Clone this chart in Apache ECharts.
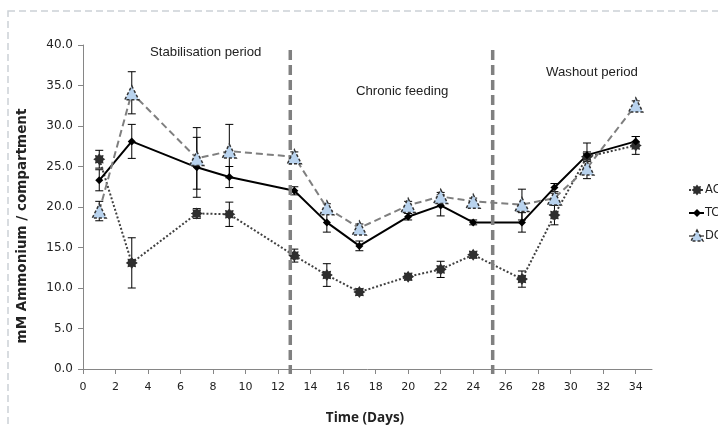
<!DOCTYPE html>
<html>
<head>
<meta charset="utf-8">
<script src="https://cdn.jsdelivr.net/npm/echarts@6/dist/echarts.min.js"></script>
<style>
  html, body { margin: 0; padding: 0; background: #fff; }
  #chart { width: 718px; height: 425px; }
</style>
</head>
<body>
<div id="chart"></div>
<script>
// Sampling days
var days = [1, 3, 7, 9, 13, 15, 17, 20, 22, 24, 27, 29, 31, 34];

// Ammonium per compartment (mM), mean and error
var acMean = [25.9, 13.1, 19.2, 19.1, 14.0, 11.6, 9.5, 11.4, 12.3, 14.1, 11.1, 19.0, 26.2, 27.6];
var acErr  = [1.1, 3.1, 0.6, 1.5, 0.8, 1.4, 0.4, 0.4, 1.0, 0.4, 1.0, 1.2, 0.6, 1.1];
var tcMean = [23.3, 28.1, 24.9, 23.7, 22.0, 18.1, 15.2, 18.8, 20.2, 18.1, 18.1, 22.4, 26.4, 28.1];
var tcErr  = [1.3, 2.1, 3.7, 1.3, 0.5, 1.2, 0.6, 0.4, 1.3, 0.3, 1.2, 0.5, 1.5, 0.6];
var dcMean = [19.5, 34.1, 26.0, 26.9, 26.2, 19.9, 17.4, 20.2, 21.3, 20.7, 20.3, 21.1, 24.8, 32.6];
var dcErr  = [1.2, 2.6, 3.8, 3.3, 0.6, 0.5, 0.5, 0.5, 0.5, 0.4, 1.9, 0.6, 1.3, 0.5];

// Period boundaries (days)
var periodBounds = [12.75, 25.2];

// Axis ticks
var xTicks = [0, 2, 4, 6, 8, 10, 12, 14, 16, 18, 20, 22, 24, 26, 28, 30, 32, 34];

var seriesNames = ['AC', 'TC', 'DC'];

// 8-point star outline used for the AC marker
var starPts = [[0,-10],[2.6,-6.3],[7.1,-7.1],[6.3,-2.6],[10,0],[6.3,2.6],[7.1,7.1],[2.6,6.3],
               [0,10],[-2.6,6.3],[-7.1,7.1],[-6.3,2.6],[-10,0],[-6.3,-2.6],[-7.1,-7.1],[-2.6,-6.3]];
var acStar = 'path://M' + starPts.map(function (p) { return p[0] + ',' + p[1]; }).join(' L') + ' Z';

var acLine = { color: '#404040', width: 2, type: [2, 2] };
var tcLine = { color: '#000', width: 2, type: 'solid' };
var dcLine = { color: '#7f7f7f', width: 2, type: [7, 4] };

function pairs(xs, ys) {
  return xs.map(function (x, i) { return [x, ys[i]]; });
}
function errData(xs, m, e) {
  return xs.map(function (x, i) { return [x, m[i] - e[i], m[i] + e[i]]; });
}

function renderErr(params, api) {
  var x = api.value(0);
  var lo = api.coord([x, api.value(1)]);
  var hi = api.coord([x, api.value(2)]);
  var w = 4;
  var st = { stroke: '#000', lineWidth: 1 };
  return {
    type: 'group',
    children: [
      { type: 'line', shape: { x1: lo[0], y1: lo[1], x2: hi[0], y2: hi[1] }, style: st },
      { type: 'line', shape: { x1: lo[0] - w, y1: lo[1], x2: lo[0] + w, y2: lo[1] }, style: st },
      { type: 'line', shape: { x1: hi[0] - w, y1: hi[1], x2: hi[0] + w, y2: hi[1] }, style: st }
    ]
  };
}

function renderBound(params, api) {
  var x = api.value(0);
  var top = api.coord([x, 40]);
  var bot = api.coord([x, 0]);
  return {
    type: 'line',
    shape: { x1: top[0], y1: top[1] + 5, x2: bot[0], y2: bot[1] + 5 },
    style: { stroke: '#808080', lineWidth: 3.5, lineDash: [10, 5] }
  };
}

var chart = echarts.init(document.getElementById('chart'), null, { renderer: 'canvas' });

var tickFamily = 'DejaVu Sans, Verdana, sans-serif';
var noteFont = { fontFamily: 'Liberation Sans, Arial, sans-serif', fontSize: 13.2, fill: '#222' };

// Hand-built legend at the right edge
function legendItem(y, name, lineStyle, marker) {
  return {
    type: 'group', x: 689, y: y - 7, silent: true,
    children: [
      {
        type: 'line', shape: { x1: 0, y1: 7, x2: 15, y2: 7 },
        style: { stroke: lineStyle.color, lineWidth: 2, lineDash: lineStyle.type === 'solid' ? null : lineStyle.type }
      },
      marker,
      {
        type: 'text', x: 16, y: 7,
        style: { text: name, fontFamily: tickFamily, fontSize: 11.5, fill: '#222', verticalAlign: 'middle' }
      }
    ]
  };
}

chart.setOption({
  animation: false,
  backgroundColor: '#fff',
  grid: { left: 83, right: 66, top: 45, bottom: 56, containLabel: false, outerBoundsMode: 'none' },
  xAxis: {
    type: 'value',
    min: 0,
    max: 35,
    interval: 2,
    axisLine: { show: true, lineStyle: { color: '#868686', width: 1 } },
    axisTick: { show: true, length: 5, inside: false, customValues: xTicks, lineStyle: { color: '#868686' } },
    axisLabel: { customValues: xTicks, margin: 13, fontFamily: tickFamily, fontSize: 11, color: '#222' },
    splitLine: { show: false }
  },
  yAxis: {
    type: 'value',
    min: 0,
    max: 40,
    interval: 5,
    axisLine: { show: true, lineStyle: { color: '#868686', width: 1 } },
    axisTick: { show: true, length: 5, lineStyle: { color: '#868686' } },
    axisLabel: {
      margin: 10,
      fontFamily: tickFamily, fontSize: 12, color: '#222',
      formatter: function (v) { return v.toFixed(1); }
    },
    splitLine: { show: false }
  },
  series: [
    {
      type: 'custom', name: 'bounds', coordinateSystem: 'cartesian2d', z: 5,
      renderItem: renderBound, data: periodBounds.map(function (d) { return [d]; }),
      silent: true
    },
    { type: 'custom', name: 'acErr', renderItem: renderErr, data: errData(days, acMean, acErr), z: 3, silent: true },
    { type: 'custom', name: 'tcErr', renderItem: renderErr, data: errData(days, tcMean, tcErr), z: 3, silent: true },
    { type: 'custom', name: 'dcErr', renderItem: renderErr, data: errData(days, dcMean, dcErr), z: 3, silent: true },
    {
      name: seriesNames[0], type: 'line', data: pairs(days, acMean), z: 4,
      symbol: acStar, symbolSize: 12,
      lineStyle: acLine,
      itemStyle: { color: '#2e2e2e', borderWidth: 0 }
    },
    {
      name: seriesNames[1], type: 'line', data: pairs(days, tcMean), z: 4,
      symbol: 'diamond', symbolSize: 8,
      lineStyle: tcLine,
      itemStyle: { color: '#000', borderWidth: 0 }
    },
    {
      name: seriesNames[2], type: 'line', data: pairs(days, dcMean), z: 6,
      symbol: 'triangle', symbolSize: 14,
      lineStyle: dcLine,
      itemStyle: { color: '#b9d3ee', borderColor: '#333', borderWidth: 1.5, borderType: [3, 2] }
    }
  ],
  graphic: [
    {
      type: 'rect', silent: true, z: -1,
      shape: { x: 8, y: 11, width: 740, height: 440 },
      style: { fill: 'none', stroke: '#ccd1d6', lineWidth: 1.5, lineDash: [7, 4] }
    },
    // Axis titles
    {
      type: 'text', x: 22, y: 226, rotation: Math.PI / 2, silent: true,
      style: {
        text: 'mM Ammonium / compartment', fontFamily: 'DejaVu Sans, Verdana, sans-serif',
        fontSize: 13.5, fontWeight: 'bold', fill: '#222', align: 'center', verticalAlign: 'middle'
      }
    },
    {
      type: 'text', x: 365, y: 418, silent: true,
      style: {
        text: 'Time (Days)', fontFamily: 'Open Sans, Liberation Sans, sans-serif',
        fontSize: 13.5, fontWeight: 'bold', fill: '#222', align: 'center', verticalAlign: 'middle'
      }
    },
    // Period annotations
    { type: 'text', x: 150, y: 46, style: Object.assign({ text: 'Stabilisation period' }, noteFont) },
    { type: 'text', x: 356, y: 85, style: Object.assign({ text: 'Chronic feeding' }, noteFont) },
    { type: 'text', x: 546, y: 66, style: Object.assign({ text: 'Washout period' }, noteFont) },
    // Legend
    legendItem(190, seriesNames[0], acLine, {
      type: 'polygon', x: 8, y: 7,
      shape: { points: starPts.map(function (p) { return [p[0] * 0.55, p[1] * 0.55]; }) },
      style: { fill: '#2e2e2e' }
    }),
    legendItem(213, seriesNames[1], tcLine, {
      type: 'polygon', shape: { points: [[8, 3], [12, 7], [8, 11], [4, 7]] }, style: { fill: '#000' }
    }),
    legendItem(236, seriesNames[2], dcLine, {
      type: 'polygon', shape: { points: [[8, 1], [14, 12], [2, 12]] },
      style: { fill: '#b9d3ee', stroke: '#333', lineWidth: 1.5, lineDash: [3, 2] }
    })
  ]
});
</script>
</body>
</html>
